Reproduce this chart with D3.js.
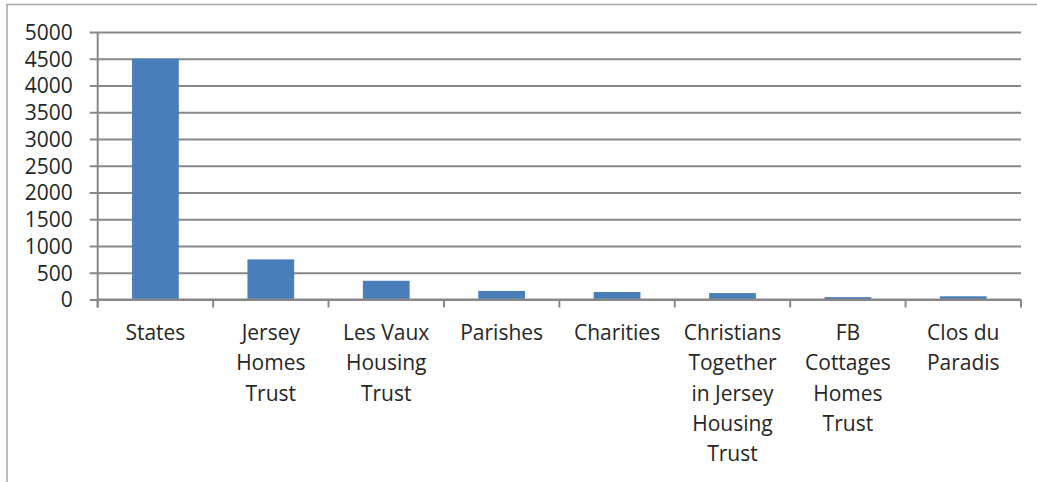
<!DOCTYPE html>
<html>
<head>
<meta charset="utf-8">
<script src="https://cdn.jsdelivr.net/npm/d3@7"></script>
<style>
  body { margin: 0; background: #fff; }
  svg { display: block; }
  text { font-family: "Open Sans", sans-serif; font-size: 21px; fill: #262626; }
</style>
</head>
<body>
<svg class="chart"></svg>
<script>
// data
const categories = ["States", "Jersey Homes Trust", "Les Vaux Housing Trust", "Parishes", "Charities",
    "Christians Together in Jersey Housing Trust", "FB Cottages Homes Trust", "Clos du Paradis"]
const values = [4500, 750, 350, 160, 140, 120, 45, 60]
const labelLines = [
    ["States"],
    ["Jersey", "Homes", "Trust"],
    ["Les Vaux", "Housing", "Trust"],
    ["Parishes"],
    ["Charities"],
    ["Christians", "Together", "in Jersey", "Housing", "Trust"],
    ["FB", "Cottages", "Homes", "Trust"],
    ["Clos du", "Paradis"]
]
const yTicks = [0, 500, 1000, 1500, 2000, 2500, 3000, 3500, 4000, 4500, 5000]

var width = 1037
var height = 482
var plot = { left: 97.7, right: 1021, top: 32, bottom: 299.5 }
var gridColor = '#888888'

var svg = d3.select('.chart')
    .attr('width', width)
    .attr('height', height)

// outer frame (only top and left edges show)
svg.append('path')
    .attr('d', `M7,${height} L7,4.5 L${width},4.5`)
    .attr('fill', 'none')
    .attr('stroke', '#a6a6a6')
    .attr('stroke-width', 1.5)

var x_scale = d3.scaleBand()
    .domain(categories)
    .range([plot.left, plot.right])
    .paddingInner(0.595)
    .paddingOuter(0.2975)

var y_scale = d3.scaleLinear()
    .domain([0, 5000])
    .range([plot.bottom, plot.top])

// gridlines + y ticks
var y_axis = d3.axisLeft(y_scale)
    .tickValues(yTicks)
    .tickSize(-(plot.right - plot.left))
    .tickPadding(0)
    .tickFormat(d => d)

var gy = svg.append('g')
    .attr('transform', `translate(${plot.left},0)`)
    .call(y_axis)
gy.select('.domain').remove()
gy.selectAll('.tick line')
    .attr('x1', -8)
    .attr('stroke', gridColor)
    .attr('stroke-width', 2)
gy.selectAll('.tick text')
    .attr('x', -25)
    .attr('dy', '0.35em')
    .style('text-anchor', 'end')

// bars
svg.append('g').selectAll('rect')
    .data(values)
    .enter()
    .append('rect')
    .attr('x', (d, i) => x_scale(categories[i]))
    .attr('width', x_scale.bandwidth())
    .attr('y', d => y_scale(d))
    .attr('height', d => y_scale(0) - y_scale(d))
    .attr('fill', '#4a7ebb')

// y axis line
svg.append('line')
    .attr('x1', plot.left).attr('x2', plot.left)
    .attr('y1', plot.top).attr('y2', plot.bottom + 8)
    .attr('stroke', gridColor)
    .attr('stroke-width', 2)

// x axis line and category boundary ticks
var step = x_scale.step()
svg.append('line')
    .attr('x1', plot.left).attr('x2', plot.right)
    .attr('y1', plot.bottom).attr('y2', plot.bottom)
    .attr('stroke', gridColor)
    .attr('stroke-width', 2)

svg.append('g').selectAll('line')
    .data(d3.range(categories.length + 1))
    .enter()
    .append('line')
    .attr('x1', i => plot.left + i * step)
    .attr('x2', i => plot.left + i * step)
    .attr('y1', plot.bottom)
    .attr('y2', plot.bottom + 8)
    .attr('stroke', gridColor)
    .attr('stroke-width', 2)

// category labels
var labels = svg.append('g').selectAll('text')
    .data(labelLines)
    .enter()
    .append('text')
    .attr('x', (d, i) => x_scale(categories[i]) + x_scale.bandwidth() / 2)
    .attr('y', 340)
    .style('text-anchor', 'middle')

labels.selectAll('tspan')
    .data(d => d)
    .enter()
    .append('tspan')
    .attr('x', function () { return d3.select(this.parentNode).attr('x') })
    .attr('dy', (d, i) => i === 0 ? 0 : 30.3)
    .text(d => d)
</script>
</body>
</html>
